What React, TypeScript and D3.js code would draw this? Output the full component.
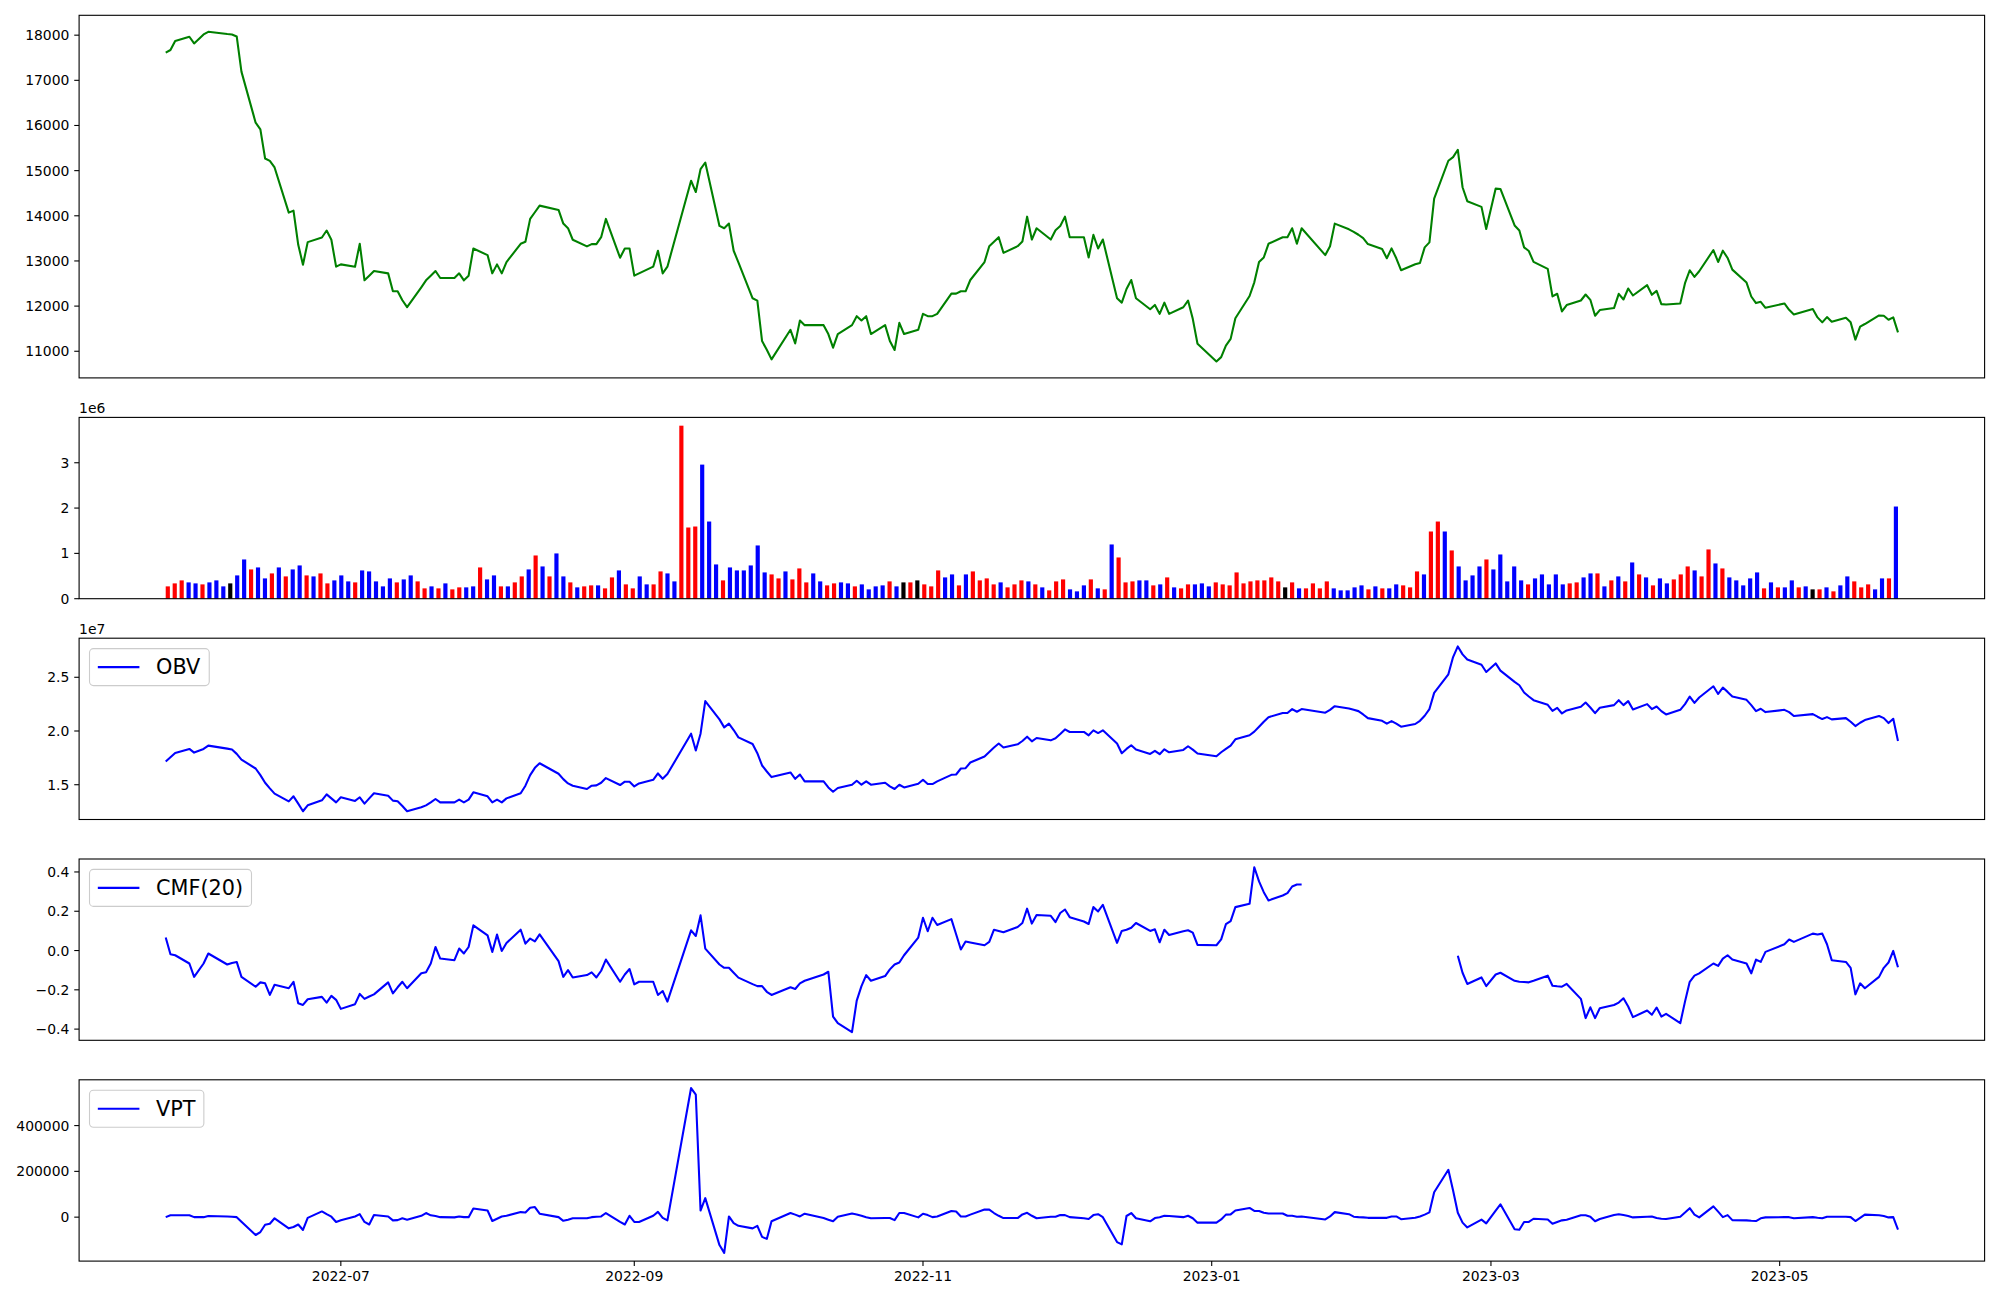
import React from 'react';
import * as d3 from 'd3';

// ---------- calendar (KRX trading days) ----------
const START_DATE = '2022-05-25';
const END_DATE = '2023-05-26';
const HOLIDAYS = ['2022-06-01','2022-06-06','2022-08-15','2022-09-09','2022-09-12','2022-10-03','2022-10-10','2022-12-30','2023-01-23','2023-01-24','2023-03-01','2023-05-01','2023-05-05'];

// ---------- data ----------
const CLOSE = [
17612,17671,17869,17965,17818,18016,18075,18024,18016,17972,
17193,16062,15915,15268,15217,15070,14071,14115,13358,12917,
13417,13520,13674,13469,12873,12924,12873,13380,12571,12674,
12777,12725,12329,12329,12130,11976,12417,12571,12674,12777,
12623,12623,12725,12571,12674,13277,13130,12725,12924,12725,
12975,13380,13424,13931,14078,14225,14130,13828,13725,13469,
13322,13373,13373,13527,13931,13071,13277,13277,12674,12725,
12873,13226,12725,12873,14776,14526,15033,15180,13776,13725,
13828,13226,12969,12173,12122,11225,11034,10821,11475,11174,
11681,11578,11578,11381,11080,11381,11579,11777,11681,11777,
11381,11579,11226,11028,11630,11381,11476,11829,11777,11777,
11829,12277,12277,12328,12328,12578,12975,13327,13425,13526,
13180,13327,13430,13981,13474,13724,13474,13680,13775,13981,
13526,13526,13077,13577,13276,13474,12173,12077,12379,12578,
12173,11931,12026,11828,12077,11828,11975,12122,11718,11167,
10775,10870,11127,11274,11730,12224,12526,12975,13077,13380,
13526,13526,13724,13380,13724,13130,13327,13827,13700,13645,
13580,13506,13374,13264,13059,13279,13059,12795,12927,12956,
13301,13412,14381,15219,15300,15462,14632,14323,14198,13706,
14602,14594,13786,13676,13301,13220,12978,12824,12214,12273,
11883,12023,12124,12257,12139,11787,11912,11956,12272,12147,
12390,12235,12463,12250,12338,12044,12037,12059,12507,12794,
12647,12772,13242,12977,13227,13066,12808,12521,12213,12066,
12095,11963,12059,11919,11816,11934,11750,11640,11757,11655,
11743,11640,11258,11545,11603,11793,11786,11698,11750,11419];

// volume in thousands of shares
const VOLUME_K = [
272,338,404,360,338,316,360,404,272,338,
514,866,646,690,448,558,690,492,646,734,
514,492,558,338,404,514,382,360,624,602,
382,272,448,360,426,514,382,228,272,228,
338,206,250,250,272,690,426,514,272,272,
360,492,646,954,712,492,999,492,360,250,
272,294,294,228,470,624,316,228,492,316,
316,602,558,382,3818,1571,1593,2959,1703,756,
404,690,624,624,734,1175,580,536,448,602,
426,668,360,558,382,294,338,360,338,272,
316,206,272,294,382,272,360,360,404,316,
272,624,470,536,294,536,602,404,448,316,
360,250,316,404,382,316,250,184,382,426,
206,162,294,426,228,206,1197,910,360,382,
404,404,294,316,470,250,228,316,316,338,
272,360,316,294,580,338,382,404,404,470,
382,250,360,228,228,338,228,382,228,184,
184,250,294,206,272,228,228,316,294,250,
602,536,1483,1703,1483,1065,712,404,514,712,
866,646,976,382,712,404,316,448,536,316,
536,316,338,360,470,558,558,272,404,492,
382,800,536,470,294,448,338,426,536,712,
624,492,1087,778,668,470,404,294,448,580,
228,360,250,250,404,250,272,206,206,250,
162,294,492,382,250,316,206,448,448,2034];

// r = up candle, b = down candle, k = unchanged
const VOLUME_COLOR_CODES =
'rrrbbrbbbk' + 'bbrbbrbrbb' + 'rbrrbbbrbb' + 'bbbrbbrrbr' + 'brrbbrbbrb' +
'rrbrbrbbrb' + 'rrbrrbrrbb' + 'rrbbrrrbbb' + 'rbbbbbbrrb' + 'rrrbbrrbbr' +
'bbbbrbkrkr' + 'rrbbrbrrrr' + 'brrrbrbrrr' + 'bbbrbrbrrr' + 'bbrbrbrrbb' +
'brrrrrrrrr' + 'rkrbrrrrbb' + 'bbbrbrbbrr' + 'rbrrbrbbbb' + 'rbbbbbrbbb' +
'bbrrbbrbrb' + 'rbrbrbbrrr' + 'brrbrbbbbb' + 'rbrbbrbkrb' + 'rbbrrrbbrb';
const COLOR_MAP: Record<string, string> = { r: 'red', b: 'blue', k: 'black' };

// OBV in units of 1e7
const OBV_E7 = [
1.716,1.756,1.796,1.833,1.799,1.833,1.864,1.836,1.827,1.787,
1.734,1.651,1.589,1.518,1.466,1.417,1.345,1.392,1.324,1.253,
1.308,1.355,1.410,1.373,1.336,1.383,1.349,1.383,1.324,1.373,
1.420,1.398,1.352,1.346,1.302,1.253,1.290,1.308,1.336,1.367,
1.336,1.336,1.361,1.336,1.361,1.429,1.392,1.336,1.361,1.336,
1.373,1.420,1.491,1.589,1.657,1.700,1.602,1.552,1.512,1.491,
1.460,1.491,1.494,1.518,1.562,1.497,1.528,1.528,1.484,1.512,
1.546,1.605,1.555,1.599,1.975,1.818,1.975,2.278,2.108,2.034,
2.068,2.009,1.941,1.879,1.793,1.679,1.623,1.571,1.614,1.555,
1.595,1.531,1.531,1.475,1.435,1.469,1.500,1.537,1.500,1.531,
1.500,1.518,1.484,1.460,1.500,1.475,1.509,1.546,1.506,1.506,
1.531,1.592,1.595,1.651,1.654,1.707,1.762,1.805,1.846,1.883,
1.846,1.876,1.907,1.947,1.904,1.935,1.913,1.932,1.972,2.015,
1.991,1.991,1.960,2.006,1.981,2.006,1.883,1.793,1.833,1.867,
1.827,1.787,1.815,1.784,1.830,1.802,1.824,1.858,1.827,1.790,
1.765,1.802,1.833,1.864,1.923,1.960,1.994,2.040,2.086,2.129,
2.167,2.167,2.204,2.179,2.204,2.170,2.197,2.231,2.210,2.197,
2.185,2.154,2.120,2.095,2.068,2.092,2.068,2.040,2.065,2.095,
2.142,2.204,2.355,2.528,2.688,2.787,2.713,2.666,2.617,2.549,
2.629,2.562,2.457,2.426,2.358,2.321,2.287,2.244,2.188,2.216,
2.163,2.191,2.225,2.265,2.219,2.166,2.216,2.241,2.287,2.241,
2.278,2.200,2.250,2.204,2.228,2.185,2.154,2.197,2.250,2.321,
2.262,2.312,2.416,2.345,2.404,2.364,2.321,2.290,2.241,2.185,
2.207,2.176,2.197,2.176,2.139,2.157,2.133,2.111,2.129,2.108,
2.120,2.086,2.046,2.077,2.102,2.139,2.120,2.074,2.114,1.907];

const N = null;
const CMF20 = [
0.066,-0.019,-0.024,-0.066,-0.134,-0.066,-0.015,-0.071,-0.063,-0.058,
-0.134,-0.184,-0.162,-0.167,-0.226,-0.174,-0.192,-0.159,-0.268,-0.277,
-0.248,-0.236,-0.265,-0.231,-0.251,-0.297,-0.273,-0.221,-0.246,-0.234,
-0.223,-0.162,-0.218,-0.187,-0.159,-0.192,-0.116,-0.110,-0.066,0.018,
-0.041,-0.049,0.010,-0.015,0.018,0.128,0.077,-0.007,0.081,-0.002,
0.038,0.106,0.035,0.061,0.047,0.082,-0.054,-0.134,-0.100,-0.137,
-0.125,-0.111,-0.137,-0.103,-0.046,-0.159,-0.122,-0.094,-0.172,-0.159,
-0.159,-0.226,-0.206,-0.260,0.103,0.074,0.179,0.010,-0.071,-0.088,
-0.088,-0.113,-0.138,-0.171,-0.181,-0.181,-0.210,-0.226,-0.187,-0.196,
-0.167,-0.154,-0.122,-0.108,-0.336,-0.370,-0.415,-0.255,-0.181,-0.125,
-0.154,-0.130,-0.096,-0.071,-0.061,-0.024,0.066,0.167,0.098,0.167,
0.130,0.160,0.083,0.005,0.046,0.041,0.027,0.044,0.106,0.100,
0.093,0.120,0.140,0.213,0.137,0.181,0.177,0.145,0.191,0.209,
0.170,0.148,0.135,0.221,0.199,0.233,0.039,0.100,0.106,0.116,
0.140,0.100,0.108,0.042,0.106,0.079,0.098,0.103,0.091,0.029,
0.027,0.057,0.134,0.150,0.221,0.238,0.424,0.352,0.297,0.255,
0.280,0.292,0.326,0.336,0.336,N,N,N,N,N,
N,N,N,N,N,N,N,N,N,N,
N,N,N,N,N,-0.027,-0.113,-0.170,-0.137,-0.181,
-0.122,-0.113,-0.154,-0.159,-0.160,-0.162,-0.154,-0.128,-0.179,-0.182,
-0.184,-0.170,-0.246,-0.344,-0.289,-0.344,-0.294,-0.277,-0.265,-0.243,
-0.285,-0.339,-0.305,-0.327,-0.290,-0.336,-0.322,-0.370,-0.260,-0.159,
-0.128,-0.116,-0.066,-0.078,-0.041,-0.024,-0.046,-0.066,-0.116,-0.046,
-0.058,-0.007,0.032,0.056,0.044,0.086,0.082,0.086,0.032,-0.049,
-0.058,-0.088,-0.223,-0.167,-0.192,-0.134,-0.088,-0.061,-0.002,-0.085];

// VPT in thousands
const VPT_K = [
0,8,8,8,0,0,5,3,2,0,
-20,-78,-65,-33,-29,-5,-49,-43,-32,-56,
-3,25,13,2,-21,-14,3,13,-21,-32,
9,3,-14,-13,-5,-11,6,18,8,5,
0,-1,3,0,0,38,29,-17,-7,3,
6,22,20,41,44,15,0,-16,-11,-5,
-5,0,2,3,18,-21,-32,6,-21,-21,
6,23,-3,-14,564,535,29,83,-122,-156,
3,-26,-38,-49,-38,-86,-95,-18,18,11,
3,15,-4,-11,-18,2,16,12,6,0,
-5,-4,-4,-13,18,18,-1,15,9,0,
3,27,25,3,3,11,33,33,18,6,
-4,-4,12,19,6,-5,2,2,9,9,
0,-5,-8,9,13,0,-109,-119,5,18,
-5,-18,-4,0,6,5,0,6,-5,-24,
-24,-10,11,12,29,40,27,27,19,16,
16,6,6,2,3,-10,3,22,13,2,
0,-1,-3,-3,-3,3,3,-9,-3,3,
11,21,109,207,116,19,-24,-45,-11,-27,
29,56,-53,-55,-21,-21,-7,-10,-29,-21,
-14,-11,8,8,2,-18,-8,9,13,9,
5,-1,2,3,-4,-7,-8,2,20,39,
11,-1,47,24,0,9,-13,-14,-16,-17,
-5,-1,0,0,-5,0,-3,-5,2,2,
2,0,-17,-3,11,8,5,-1,0,-55];

const PRICE_TICKS = [11000,12000,13000,14000,15000,16000,17000,18000];
const VOLUME_TICKS_E6 = [0,1,2,3];
const OBV_TICKS_E7 = [1.5,2.0,2.5];
const CMF_TICKS = [-0.4,-0.2,0,0.2,0.4];
const VPT_TICKS = [0,200000,400000];
const X_TICKS = ['2022-07-01','2022-09-01','2022-11-01','2023-01-01','2023-03-01','2023-05-01'];

// ---------- layout ----------
const W = 2000, H = 1300;
const L = 79.1, R = 1984.6;
const PANELS = [
  { top: 15.3, bottom: 377.9 },
  { top: 417.4, bottom: 598.7 },
  { top: 638.2, bottom: 819.5 },
  { top: 859.0, bottom: 1040.3 },
  { top: 1079.8, bottom: 1261.1 },
];
const FONT = 'DejaVu Sans, sans-serif';
const TICK_FS = 13.9;
const LEG_FS = 20.8;
const TICK_LEN = 4.86;

function parseUTC(s: string) { const [y, m, d] = s.split('-').map(Number); return new Date(Date.UTC(y, m - 1, d)); }
function fmtUTC(d: Date) { return d.toISOString().slice(0, 10); }
function tradingDays(): Date[] {
  const out: Date[] = [];
  const hol = new Set(HOLIDAYS);
  const end = parseUTC(END_DATE).getTime();
  for (let t = parseUTC(START_DATE).getTime(); t <= end; t += 86400000) {
    const d = new Date(t);
    const wd = d.getUTCDay();
    if (wd === 0 || wd === 6) continue;
    if (hol.has(fmtUTC(d))) continue;
    out.push(d);
  }
  return out;
}

function padded(vals: number[], lo0?: number): [number, number] {
  const [mn, mx] = d3.extent(vals) as [number, number];
  const r = mx - mn;
  return [lo0 !== undefined ? lo0 : mn - 0.05 * r, mx + 0.05 * r];
}

const minus = (s: string) => s.replace('-', '\u2212');

function YTicks({ scale, ticks, fmt }: { scale: d3.ScaleLinear<number, number>; ticks: number[]; fmt: (v: number) => string }) {
  return (
    <g>
      {ticks.map((t) => {
        const y = scale(t);
        return (
          <g key={t}>
            <line x1={L - TICK_LEN} x2={L} y1={y} y2={y} stroke="black" strokeWidth={1.1} />
            <text x={L - TICK_LEN - 4.9} y={y} textAnchor="end" dominantBaseline="central" fontSize={TICK_FS} fontFamily={FONT}>{fmt(t)}</text>
          </g>
        );
      })}
    </g>
  );
}

function Frame({ p }: { p: { top: number; bottom: number } }) {
  return <rect x={L} y={p.top} width={R - L} height={p.bottom - p.top} fill="none" stroke="black" strokeWidth={1.1} />;
}

function Legend({ p, label }: { p: { top: number; bottom: number }; label: string }) {
  const pad = 0.4 * LEG_FS, ax = 0.5 * LEG_FS, hl = 2 * LEG_FS, htp = 0.8 * LEG_FS;
  const bx = L + ax, by = p.top + ax;
  const tw = (label.length === 3 ? (label === 'OBV' ? 2.157 : 1.898) : 4.188) * LEG_FS;
  const bw = pad + hl + htp + tw + pad;
  const bh = 37;
  const cy = by + bh / 2;
  return (
    <g>
      <rect x={bx} y={by} width={bw} height={bh} rx={4} ry={4} fill="white" fillOpacity={0.8} stroke="#cccccc" strokeWidth={1.1} />
      <line x1={bx + pad} x2={bx + pad + hl} y1={cy} y2={cy} stroke="blue" strokeWidth={2.08} />
      <text x={bx + pad + hl + htp} y={cy} dominantBaseline="central" fontSize={LEG_FS} fontFamily={FONT}>{label}</text>
    </g>
  );
}

export default function App() {
  const dates = tradingDays();
  const n = CLOSE.length;
  const t0 = dates[0].getTime(), t1 = dates[n - 1].getTime();
  const span = t1 - t0;
  const x = d3.scaleUtc().domain([new Date(t0 - 0.05 * span), new Date(t1 + 0.05 * span)]).range([L, R]);

  // price
  const yP = d3.scaleLinear().domain(padded(CLOSE)).range([PANELS[0].bottom, PANELS[0].top]);
  const priceLine = d3.line<number>().x((_, i) => x(dates[i])).y((v) => yP(v))(CLOSE) || '';

  // volume (index based axis)
  const bw = 0.6;
  const vol = VOLUME_K.map((v) => v * 1000);
  const iLo = -bw / 2, iHi = n - 1 + bw / 2, iSpan = iHi - iLo;
  const xi = d3.scaleLinear().domain([iLo - 0.05 * iSpan, iHi + 0.05 * iSpan]).range([L, R]);
  const yV = d3.scaleLinear().domain(padded(vol, 0)).range([PANELS[1].bottom, PANELS[1].top]);
  const barPx = xi(bw) - xi(0);

  // OBV
  const obv = OBV_E7.map((v) => v * 1e7);
  const yO = d3.scaleLinear().domain(padded(obv)).range([PANELS[2].bottom, PANELS[2].top]);
  const obvLine = d3.line<number>().x((_, i) => x(dates[i])).y((v) => yO(v))(obv) || '';

  // CMF
  const cmfVals = CMF20.filter((v) => v !== null) as number[];
  const yC = d3.scaleLinear().domain(padded(cmfVals)).range([PANELS[3].bottom, PANELS[3].top]);
  const cmfLine = d3.line<number | null>().defined((v) => v !== null).x((_, i) => x(dates[i])).y((v) => yC(v as number))(CMF20) || '';

  // VPT
  const vpt = VPT_K.map((v) => v * 1000);
  const yT = d3.scaleLinear().domain(padded(vpt)).range([PANELS[4].bottom, PANELS[4].top]);
  const vptLine = d3.line<number>().x((_, i) => x(dates[i])).y((v) => yT(v))(vpt) || '';

  const pb = PANELS[4].bottom;

  return (
    <svg width={W} height={H} viewBox={`0 0 ${W} ${H}`} style={{ position: 'absolute', left: 0, top: 0, background: 'white' }}>
      <rect x={0} y={0} width={W} height={H} fill="white" />

      {/* Price */}
      <path d={priceLine} fill="none" stroke="green" strokeWidth={2.08} strokeLinejoin="round" />
      <Frame p={PANELS[0]} />
      <YTicks scale={yP} ticks={PRICE_TICKS} fmt={(v) => String(v)} />

      {/* Volume */}
      {vol.map((v, i) => (
        <rect key={i} x={xi(i) - barPx / 2} y={yV(v)} width={barPx} height={yV(0) - yV(v)} fill={COLOR_MAP[VOLUME_COLOR_CODES[i]] || 'blue'} />
      ))}
      <Frame p={PANELS[1]} />
      <YTicks scale={yV} ticks={VOLUME_TICKS_E6.map((t) => t * 1e6)} fmt={(v) => String(Math.round(v / 1e6))} />
      <text x={L} y={PANELS[1].top - 4.5} fontSize={TICK_FS} fontFamily={FONT}>1e6</text>

      {/* OBV */}
      <path d={obvLine} fill="none" stroke="blue" strokeWidth={2.08} strokeLinejoin="round" />
      <Frame p={PANELS[2]} />
      <YTicks scale={yO} ticks={OBV_TICKS_E7.map((t) => t * 1e7)} fmt={(v) => (v / 1e7).toFixed(1)} />
      <text x={L} y={PANELS[2].top - 4.5} fontSize={TICK_FS} fontFamily={FONT}>1e7</text>
      <Legend p={PANELS[2]} label="OBV" />

      {/* CMF */}
      <path d={cmfLine} fill="none" stroke="blue" strokeWidth={2.08} strokeLinejoin="round" />
      <Frame p={PANELS[3]} />
      <YTicks scale={yC} ticks={CMF_TICKS} fmt={(v) => minus(v.toFixed(1))} />
      <Legend p={PANELS[3]} label="CMF(20)" />

      {/* VPT */}
      <path d={vptLine} fill="none" stroke="blue" strokeWidth={2.08} strokeLinejoin="round" />
      <Frame p={PANELS[4]} />
      <YTicks scale={yT} ticks={VPT_TICKS} fmt={(v) => String(v)} />
      <Legend p={PANELS[4]} label="VPT" />

      {/* bottom x axis */}
      {X_TICKS.map((s) => {
        const d = parseUTC(s);
        const xx = x(d);
        return (
          <g key={s}>
            <line x1={xx} x2={xx} y1={pb} y2={pb + TICK_LEN} stroke="black" strokeWidth={1.1} />
            <text x={xx} y={pb + TICK_LEN + 4.9} textAnchor="middle" dominantBaseline="hanging" fontSize={TICK_FS} fontFamily={FONT}>{s.slice(0, 7)}</text>
          </g>
        );
      })}
    </svg>
  );
}
